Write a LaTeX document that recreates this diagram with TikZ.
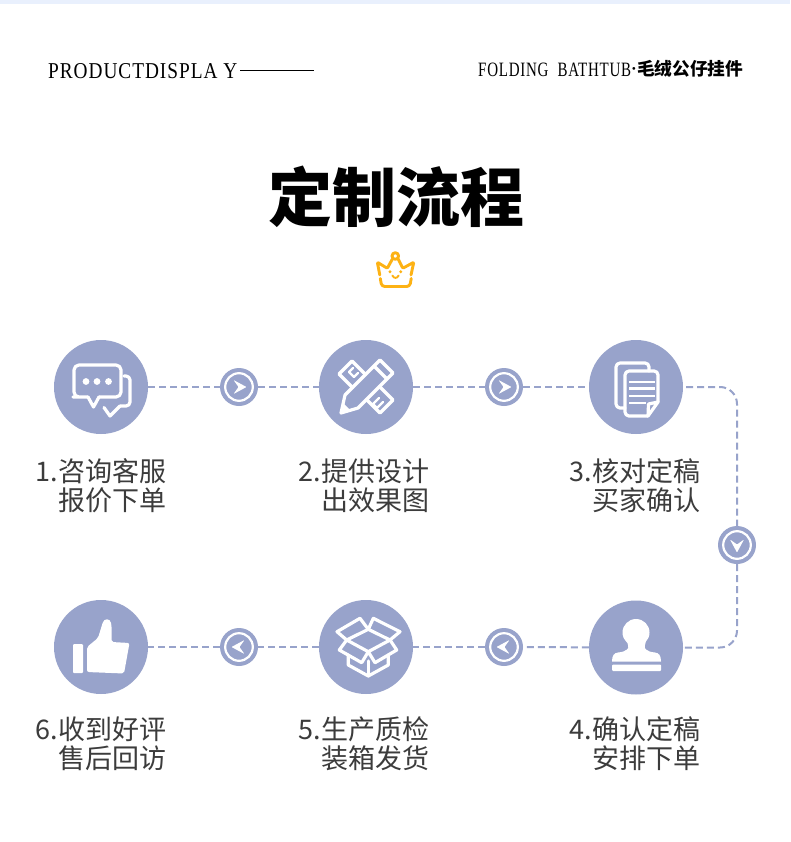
\documentclass[tikz,border=0pt]{standalone}
\usepackage{fontspec}
\usepackage{graphicx}
\setmainfont{Liberation Serif}
\newfontfamily\spaced[LetterSpace=5]{Liberation Serif}
\newfontfamily\cjk{Noto Sans CJK SC}
\definecolor{flowblue}{RGB}{152,163,203}
\definecolor{stripe}{RGB}{233,240,253}
\definecolor{crownor}{RGB}{253,178,20}
\definecolor{labelgray}{RGB}{60,60,60}
\tikzset{
  bigc/.style={circle,fill=flowblue,minimum size=94pt,inner sep=0pt},
  smallc/.style={circle,fill=flowblue,minimum size=38pt,inner sep=0pt},
  conn/.style={draw=flowblue,line width=2pt,dash pattern=on 7pt off 4pt},
  lab/.style={anchor=east,align=right,text=labelgray,inner sep=0pt,font=\cjk\fontsize{27}{29}\selectfont},
  ico/.style={draw=white,line width=3.2pt,line join=round,line cap=round},
  chev/.pic={
    \draw[white,line width=2.2pt] (0,0) circle (13.8);
    \fill[white,rounded corners=0.8pt] (-5.5,-7) -- (7.5,0) -- (-5.5,7) -- (-0.5,0) -- cycle;
  }
}
\begin{document}
\begin{tikzpicture}[x=1pt,y=-1pt]
\useasboundingbox (0,0) rectangle (790,842);
\fill[white] (0,0) rectangle (790,842);
\fill[stripe] (0,0) rectangle (790,4);
% header
\node[anchor=west,inner sep=0pt] (hl) at (48,70.8) {\resizebox{189pt}{15pt}{\spaced PRODUCTDISPLA Y}};
\coordinate (hlend) at (313.5,70.5);
\draw[black,line width=0.8pt] (240,70.5) -- (hlend);
\node[anchor=west,inner sep=0pt] (hr) at (478,70) {\resizebox{153pt}{13.5pt}{\spaced FOLDING\ \ BATHTUB}};
\node[inner sep=0pt] (hd) at (634,71.5) {\fontsize{17}{17}\selectfont\textbf{·}};
\node[anchor=east,inner sep=0pt] (hc) at (743.5,69) {\cjk\bfseries\fontsize{17.7}{18}\selectfont 毛绒公仔挂件};
% title
\node[inner sep=0pt] (title) at (396,196.5) {\cjk\bfseries\fontsize{64}{64}\selectfont 定制流程};
% crown
\begin{scope}[line width=2.9pt,line cap=round,line join=round]
\draw[crownor,rounded corners=1pt] (379.8,275) -- (377.3,262.2) -- (387.3,268.3) -- (392.4,259);
\draw[crownor,rounded corners=1pt] (398.2,259) -- (402.8,268.3) -- (413.8,262.2) -- (411,275);
\draw[crownor] (395.3,256) circle (3.3);
\draw[crownor,rounded corners=3pt] (380.3,278.5) -- (381.7,286.5) -- (409.8,286.5) -- (411.2,278.5);
\draw[crownor,line width=1.9pt] (392.4,275.6) .. controls (394,278.6) and (397,278.6) .. (398.6,275.6);
\end{scope}
\fill[crownor] (390,271.7) circle (1.6) (400.7,271.7) circle (1.6);
% nodes
\node[bigc] (c1) at (101,387) {};
\node[bigc] (c2) at (366,387) {};
\node[bigc] (c3) at (636,387) {};
\node[bigc] (c4) at (636,647.5) {};
\node[bigc] (c5) at (366,647) {};
\node[bigc] (c6) at (101,647) {};
\node[smallc] (a1) at (239,387) {};
\node[smallc] (a2) at (504,387) {};
\node[smallc] (a3) at (737,545) {};
\node[smallc] (a4) at (504,647) {};
\node[smallc] (a5) at (239,647) {};
\pic at (a1) {chev};
\pic at (a2) {chev};
\pic[rotate=-90] at (a3) {chev};
\pic[rotate=180] at (a4) {chev};
\pic[rotate=180] at (a5) {chev};
% connectors
\draw[conn] (c1) -- (a1);
\draw[conn] (a1) -- (c2);
\draw[conn] (c2) -- (a2);
\draw[conn] (a2) -- (c3);
\draw[conn,rounded corners=17pt] (c3.east) ++(3,0) -| (a3.north);
\draw[conn,rounded corners=17pt] (a3.south) |- (c4.east);
\draw[conn] (c4) -- (a4);
\draw[conn] (a4) -- (c5);
\draw[conn] (c5) -- (a5);
\draw[conn] (a5) -- (c6);
% icon 1: chat
\begin{scope}[shift={(c1.center)}]
\draw[ico,rounded corners=5pt] (-13,10) -- (-23,10) -- (-27,10) -- (-27,-22) -- (20,-22) -- (20,10) -- (-2,10);
\draw[ico] (-13,10) -- (-7.5,20) -- (-2,10);
\draw[ico,rounded corners=4pt] (23,-11) -- (29,-11) -- (29,19) -- (19,19);
\draw[ico] (19,19) -- (9,29) -- (3,20.5);
\fill[white] (-15,-5.5) circle (3.4) (-4,-5.5) circle (3.4) (7.5,-5.5) circle (3.4);
\end{scope}
% icon 2: pencil and ruler
\begin{scope}[shift={(c2.center)}]
\draw[ico] (-13.5,0.5) -- (-27,-13) -- (-14,-26) -- (-0.5,-12.5);
\draw[ico] (0.5,12.5) -- (14,26) -- (27,13) -- (13.5,-0.5);
\draw[ico,line width=2.2pt] (-17,-15) -- (-12,-10) (-12,-10) -- (-8,-14) (-17,-15) -- (-13,-19);
\draw[ico,line width=2.2pt] (7,17) -- (13,11) (11,21) -- (17,15) (7,17) -- (11,21);
\draw[ico] (-25,26) -- (-21,8) -- (14,-27) -- (27,-14) -- (-8,21) -- cycle;
\draw[ico] (8,-21) -- (21,-8);
\fill[white] (-25,26) -- (-23,16) -- (-15,24) -- cycle;
\end{scope}
% icon 3: documents
\begin{scope}[shift={(c3.center)}]
\draw[ico,rounded corners=4pt] (-11,21) -- (-20,21) -- (-20,-24) -- (13,-24) -- (13,-16);
\draw[ico,rounded corners=4pt] (12,29) -- (-11,29) -- (-11,-16) -- (22,-16) -- (22,15);
\draw[ico] (22,15) -- (12,29) -- (12.5,17) -- cycle;
\draw[ico,line width=2.4pt,line cap=butt] (-7,-5) -- (19,-5) (-7,1.5) -- (19,1.5) (-7,9) -- (19,9) (-7,16) -- (10,16);
\end{scope}
% icon 4: stamp
\begin{scope}[shift={(c4.center)}]
\fill[white] (0,-15) circle (13.5);
\fill[white] (-9,-8) .. controls (-9,-3) and (-6,0) .. (-9,2)
  .. controls (-11,4) and (-14,4.5) .. (-18,5)
  .. controls (-22,5.5) and (-24,8) .. (-24,14) -- (25,14)
  .. controls (25,8) and (23,5.5) .. (19,5)
  .. controls (15,4.5) and (12,4) .. (10,2)
  .. controls (7,0) and (10,-3) .. (10,-8) -- cycle;
\fill[white,rounded corners=1pt] (-24,17) rectangle (25,23.5);
\end{scope}
% icon 5: box
\begin{scope}[shift={(c5.center)}]
\draw[ico] (2.3,-17.7) -- (24,-7) -- (2.3,4.7) -- (-19.3,-7) -- cycle;
\draw[ico] (-19.3,-7) -- (-29,-15.3) -- (-6,-28.7) -- (2.3,-17.7) -- (7.3,-28.7) -- (34,-15.3) -- (24,-7);
\draw[ico] (-19.3,-7) -- (-26.7,3) -- (-4.3,15.7) -- (2.3,4.7) -- (9,15.7) -- (30.7,3) -- (24,-7);
\draw[ico] (-17.7,8) -- (-17.7,18) -- (2.3,29) -- (22.3,18) -- (22.3,8);
\draw[ico] (2.3,14) -- (2.3,29);
\end{scope}
% icon 6: thumb
\begin{scope}[shift={(c6.center)}]
\fill[white,rounded corners=1pt] (-28,-3) rectangle (-18,26);
\fill[white,rounded corners=2pt] (-14,25) -- (-14,0) -- (-3,-9) -- (1,-22)
  .. controls (3,-29) and (9,-29) .. (10.5,-22) -- (10.5,-5) -- (28.5,-4) -- (23,26.5) -- cycle;
\end{scope}
% labels
\node[lab] (t1) at (166.3,485.5) {1.咨询客服\\报价下单};
\node[lab] (t2) at (429.3,485.5) {2.提供设计\\出效果图};
\node[lab] (t3) at (700.3,485.5) {3.核对定稿\\买家确认};
\node[lab] (t4) at (700.3,744) {4.确认定稿\\安排下单};
\node[lab] (t5) at (429.3,744) {5.生产质检\\装箱发货};
\node[lab] (t6) at (166.3,744) {6.收到好评\\售后回访};
\end{tikzpicture}
\end{document}
